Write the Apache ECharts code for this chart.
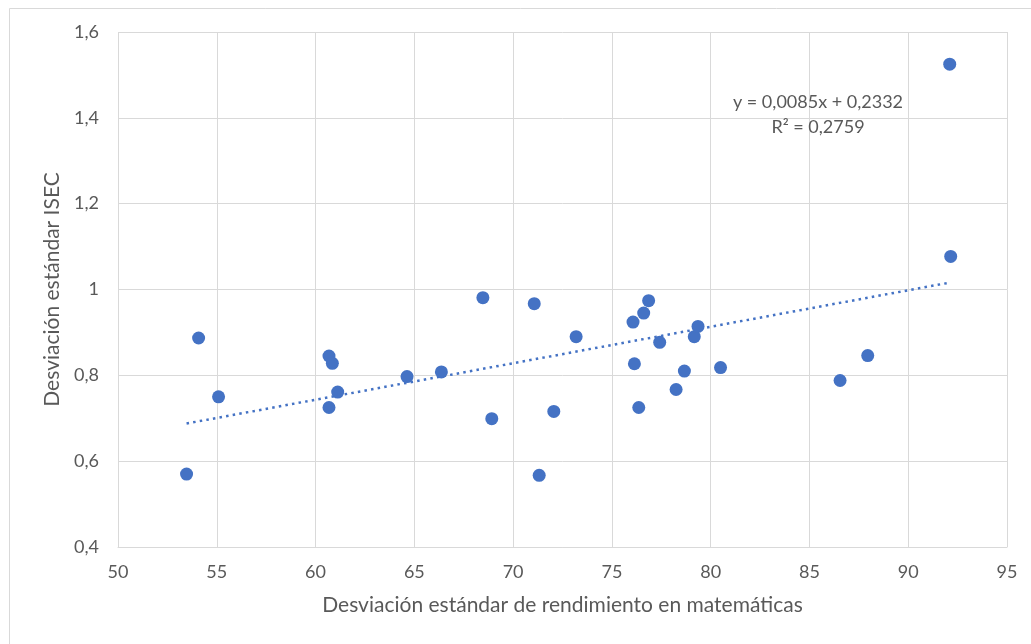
<!DOCTYPE html>
<html>
<head>
<meta charset="utf-8">
<script src="https://cdn.jsdelivr.net/npm/echarts@6/dist/echarts.min.js"></script>
<style>html,body{margin:0;padding:0;background:#fff;}#c{width:1031px;height:644px;}</style>
</head>
<body>
<div id="c"></div>
<script>
// Data
const mathSD = [53.47, 54.08, 55.09, 60.68, 60.85, 61.12, 60.68, 64.63, 66.37, 68.47,
  68.92, 71.07, 71.32, 72.06, 73.19, 76.07, 76.14, 76.36, 76.61, 76.86,
  77.42, 78.25, 78.67, 79.17, 79.36, 80.50, 86.55, 87.95, 92.15, 92.10];
const isecSD = [0.570, 0.887, 0.750, 0.845, 0.828, 0.761, 0.725, 0.797, 0.808, 0.981,
  0.699, 0.967, 0.567, 0.716, 0.890, 0.924, 0.827, 0.725, 0.945, 0.974,
  0.877, 0.767, 0.810, 0.890, 0.914, 0.818, 0.788, 0.846, 1.077, 1.525];
const trendSlope = 0.0085;
const trendIntercept = 0.2332;
const trendLabel = ['y = 0,0085x + 0,2332', 'R² = 0,2759'];
const xTitle = 'Desviación estándar de rendimiento en matemáticas';
const yTitle = 'Desviación estándar ISEC';

const points = mathSD.map((x, i) => [x, isecSD[i]]);
const xMin = Math.min(...mathSD), xMax = Math.max(...mathSD);
const trend = [[xMin, trendSlope * xMin + trendIntercept], [xMax, trendSlope * xMax + trendIntercept]];

const fmt = v => parseFloat(v.toFixed(2)).toString().replace('.', ',');
const FONT = 'Lato';
const chart = echarts.init(document.getElementById('c'), null, {renderer: 'canvas'});
chart.setOption({
  backgroundColor: '#fff',
  animation: false,
  textStyle: {fontFamily: FONT},
  grid: {left: 118, top: 32, right: 24, bottom: 97, containLabel: false},
  xAxis: {
    type: 'value', min: 50, max: 95, interval: 5,
    name: xTitle, nameLocation: 'middle', nameGap: 48,
    nameTextStyle: {color: '#595959', fontSize: 21, fontFamily: FONT},
    axisLine: {show: true, lineStyle: {color: '#d9d9d9', width: 1}},
    axisTick: {show: false},
    axisLabel: {color: '#595959', fontSize: 18, margin: 16, fontFamily: FONT},
    splitLine: {show: true, lineStyle: {color: '#d9d9d9', width: 1}}
  },
  yAxis: {
    type: 'value', min: 0.4, max: 1.6, interval: 0.2,
    name: yTitle, nameLocation: 'middle', nameGap: 55, nameRotate: 90,
    nameTextStyle: {color: '#595959', fontSize: 21, fontFamily: FONT},
    axisLine: {show: false},
    axisTick: {show: false},
    axisLabel: {color: '#595959', fontSize: 18, margin: 19, formatter: fmt, fontFamily: FONT},
    splitLine: {show: true, lineStyle: {color: '#d9d9d9', width: 1}}
  },
  graphic: [
    {type: 'rect', silent: true, z: -10,
     shape: {x: 9.5, y: 8.5, width: 1200, height: 800},
     style: {fill: null, stroke: '#d9d9d9', lineWidth: 1}},
    {type: 'text', silent: true, z: 100,
     x: 818, y: 102,
     style: {text: trendLabel[0], fill: '#595959', font: '18px ' + FONT, textAlign: 'center', textVerticalAlign: 'middle'}},
    {type: 'text', silent: true, z: 100,
     x: 818, y: 127,
     style: {text: trendLabel[1], fill: '#595959', font: '18px ' + FONT, textAlign: 'center', textVerticalAlign: 'middle'}}
  ],
  series: [
    {
      type: 'line', data: trend, showSymbol: false, symbol: 'none', z: 3,
      lineStyle: {color: '#4472C4', width: 2.5, type: [2.5, 4.2]}
    },
    {
      type: 'scatter', data: points, symbol: 'circle', symbolSize: 13, z: 5,
      itemStyle: {color: '#4472C4', opacity: 1}
    }
  ]
});
</script>
</body>
</html>
